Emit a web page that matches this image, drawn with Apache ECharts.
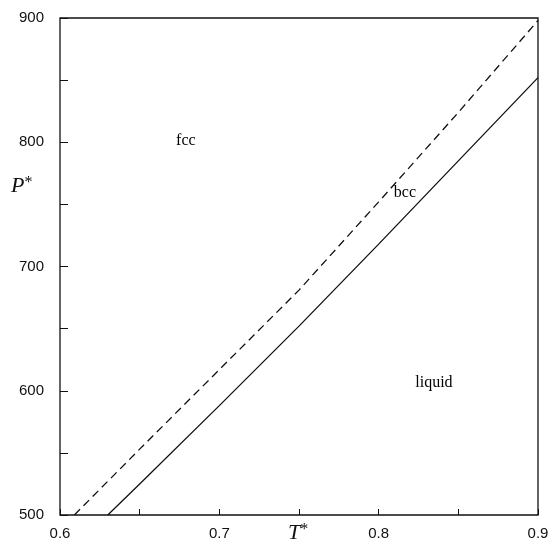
<!DOCTYPE html>
<html><head><meta charset="utf-8">
<script src="https://cdn.jsdelivr.net/npm/echarts@6/dist/echarts.min.js"></script>
<style>html,body{margin:0;padding:0;background:#fff}#c{width:553px;height:546px}</style>
</head><body><div id="c"></div>
<script>
// fcc–bcc boundary (dashed)
const dashedT = [0.609, 0.65, 0.70, 0.75, 0.80, 0.85, 0.90];
const dashedP = [500, 553, 617, 681, 752, 824, 898];
// bcc–liquid boundary (solid)
const solidT = [0.630, 0.65, 0.70, 0.75, 0.80, 0.85, 0.90];
const solidP = [500, 525, 588, 652, 718, 785, 852];
// region labels
const regionLabels = [[0.679, 801, 'fcc'], [0.8165, 759, 'bcc'], [0.8347, 606, 'liquid']];
const xTicks = [0.6, 0.7, 0.8, 0.9];
const yTicks = [500, 600, 700, 800, 900];

const chart = echarts.init(document.getElementById('c'), null, {renderer: 'canvas'});
const ink = '#111';
const serif = 'Liberation Serif, Times New Roman, serif';
const sans = 'Liberation Sans, Arial, sans-serif';
const axisTitle = (letter, top, left) => ({
  type: 'text', left: left, top: top,
  style: {
    text: '{a|' + letter + '}{b|*}',
    rich: {
      a: {fontFamily: serif, fontStyle: 'italic', fontSize: 22, fill: ink},
      b: {fontFamily: serif, fontSize: 16, fill: ink, verticalAlign: 'top', padding: [0, 0, 6, 0]}
    }
  }
});
chart.setOption({
  animation: false,
  backgroundColor: '#fff',
  grid: {left: 60, right: 15, top: 18, bottom: 31, outerBoundsMode: 'none', containLabel: false,
    show: true, borderColor: ink, borderWidth: 1.3, backgroundColor: 'transparent'},
  xAxis: {
    type: 'value', min: 0.6, max: 0.9, interval: 0.05,
    axisLine: {show: false},
    axisTick: {show: true, inside: true, length: 6, lineStyle: {color: ink, width: 1}},
    splitLine: {show: false},
    axisLabel: {
      margin: 11, color: ink, fontFamily: sans, fontSize: 15,
      formatter: v => xTicks.some(t => Math.abs(t - v) < 1e-6) ? v.toFixed(1) : ''
    }
  },
  yAxis: {
    type: 'value', min: 500, max: 900, interval: 50,
    axisLine: {show: false},
    axisTick: {show: true, inside: true, length: 8, lineStyle: {color: ink, width: 1}},
    splitLine: {show: false},
    axisLabel: {
      margin: 16, color: ink, fontFamily: sans, fontSize: 15,
      formatter: v => yTicks.includes(v) ? String(v) : ''
    }
  },
  graphic: [axisTitle('P', 175, 11), axisTitle('T', 522, 288)],
  series: [
    {
      type: 'line', data: dashedT.map((t, i) => [t, dashedP[i]]), symbol: 'none',
      lineStyle: {color: ink, width: 1.3, type: [8, 5]}
    },
    {
      type: 'line', data: solidT.map((t, i) => [t, solidP[i]]), symbol: 'none',
      lineStyle: {color: ink, width: 1.3}
    },
    {
      type: 'scatter', data: regionLabels, symbolSize: 1, itemStyle: {opacity: 0},
      label: {show: true, position: 'inside', formatter: p => p.data[2],
        fontFamily: serif, fontSize: 16, color: '#000', opacity: 1}
    }
  ]
});
</script></body></html>
